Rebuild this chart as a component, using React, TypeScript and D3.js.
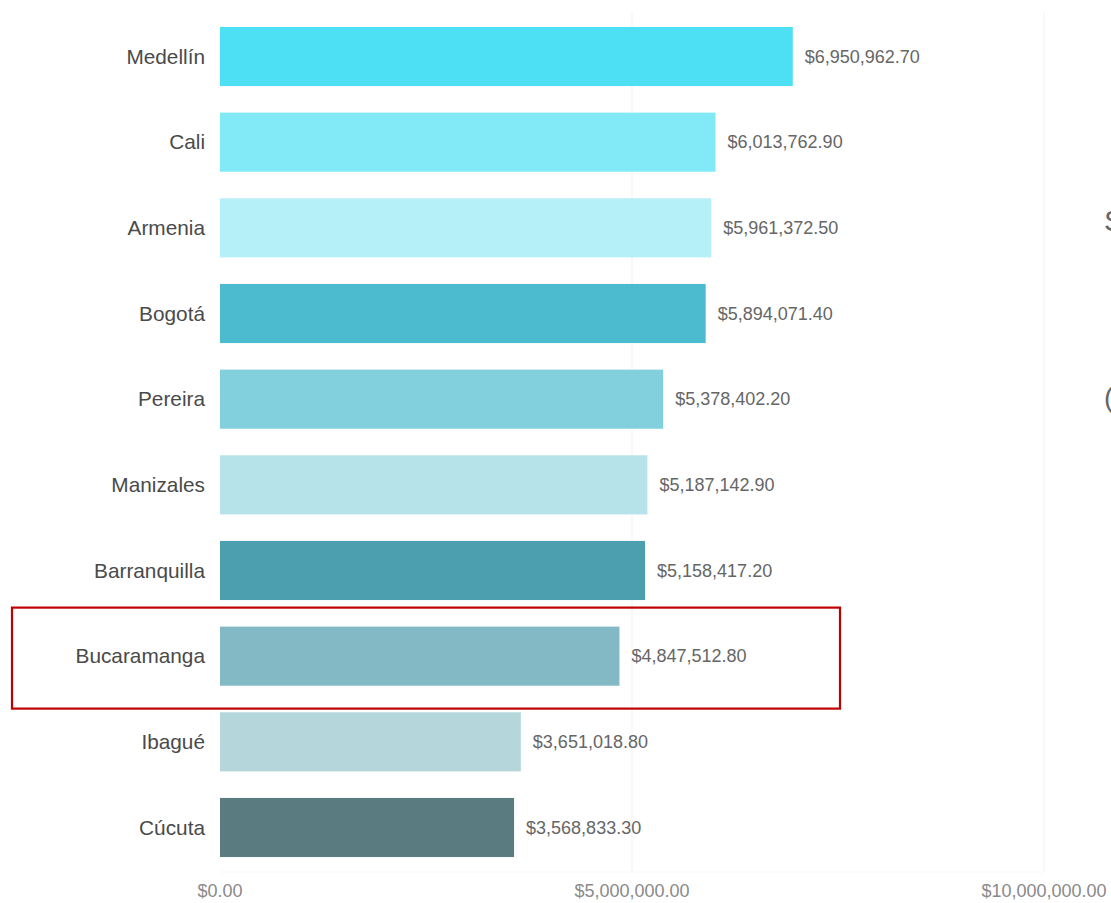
import React from "react";
import * as d3 from "d3";

const cities = ["Medellín", "Cali", "Armenia", "Bogotá", "Pereira", "Manizales", "Barranquilla", "Bucaramanga", "Ibagué", "Cúcuta"];
const values = [6950962.7, 6013762.9, 5961372.5, 5894071.4, 5378402.2, 5187142.9, 5158417.2, 4847512.8, 3651018.8, 3568833.3];
const colors = ["#4de0f5", "#82e9f7", "#b5f0f8", "#4cbacf", "#82cfdd", "#b5e3e9", "#4c9fae", "#82b9c4", "#b5d7dc", "#5a7b80"];
const ticks = [0, 5000000, 10000000];
const highlighted = "Bucaramanga";

const W = 1111;
const H = 903;
const FONT = "'Liberation Sans', Arial, sans-serif";

export default function App() {
  const x = d3.scaleLinear().domain([0, 10000000]).range([220, 1044]);
  const y = d3.scaleBand<string>().domain(cities).range([0.4, 883.6]).paddingInner(0.31).paddingOuter(0.31);
  const fmt = (v: number) => "$" + d3.format(",.2f")(v);
  const hy = y(highlighted)!;

  return (
    <svg width={W} height={H} style={{ position: "absolute", left: 0, top: 0, background: "#fff" }} fontFamily={FONT}>
      {ticks.slice(1).map((t) => (
        <line key={t} x1={x(t)} x2={x(t)} y1={12} y2={872} stroke="#f4f4f4" strokeWidth={1.2} />
      ))}
      <line x1={x(0)} x2={x(10000000)} y1={872} y2={872} stroke="#f7f7f7" strokeWidth={1.2} />
      {cities.map((c, i) => (
        <g key={c}>
          <rect x={x(0)} y={y(c)} width={x(values[i]) - x(0)} height={y.bandwidth()} fill={colors[i]} />
          <text x={205} y={y(c)! + y.bandwidth() / 2} dy="0.35em" textAnchor="end" fontSize={20.8} fill="#4a4a4a">
            {c}
          </text>
          <text x={x(values[i]) + 12} y={y(c)! + y.bandwidth() / 2} dy="0.35em" fontSize={18} fill="#666">
            {fmt(values[i])}
          </text>
        </g>
      ))}
      {ticks.map((t) => (
        <text key={t} x={x(t)} y={891} dy="0.35em" textAnchor="middle" fontSize={18} fill="#8a8a8a">
          {fmt(t)}
        </text>
      ))}
      <rect x={12} y={hy - 19} width={828} height={101} fill="none" stroke="#c00000" strokeWidth={2.2} />
      <text x={1104} y={231} fontSize={30} fill="#666">S</text>
      <text x={1104} y={407} fontSize={28} fill="#666">(</text>
    </svg>
  );
}
